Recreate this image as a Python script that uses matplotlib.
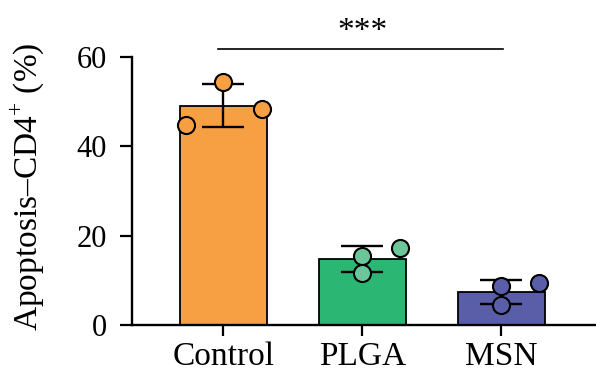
import matplotlib.pyplot as plt
import numpy as np

plt.rcParams['font.family'] = ['Liberation Serif', 'DejaVu Serif']
plt.rcParams['mathtext.fontset'] = 'custom'
plt.rcParams['mathtext.rm'] = 'Liberation Serif'

groups = ['Control', 'PLGA', 'MSN']
points = [
    [44.7, 54.3, 48.4],
    [15.5, 11.7, 17.3],
    [8.7, 4.4, 9.3],
]
jitter = [
    [-0.27, 0.0, 0.28],
    [0.0, 0.0, 0.27],
    [0.0, 0.0, 0.27],
]
bar_colors = ['#F7A043', '#2BB673', '#5A5EA9']
dot_colors = ['#F7A043', '#6CC69A', '#5A5EA9']
sig_text = '***'
sig_y = 61.7

means = [np.mean(p) for p in points]
sds = [np.std(p, ddof=1) for p in points]
x = np.arange(len(groups))

fig = plt.figure(figsize=(5.96, 3.82), dpi=100)
ax = fig.add_axes([0.2215, 0.1492, 0.7785, 0.7016])

ax.bar(x, means, width=0.625, color=bar_colors, edgecolor='black', linewidth=1.3, zorder=2)
ax.errorbar(x, means, yerr=sds, fmt='none', ecolor='black', elinewidth=1.7,
            capsize=15, capthick=1.7, zorder=3)
for i, p in enumerate(points):
    ax.plot(x[i] + np.array(jitter[i]), p, 'o', ms=12.3, mfc=dot_colors[i],
            mec='black', mew=1.5, zorder=4, clip_on=False)

# significance bar
ax.plot([-0.04, 2.01], [sig_y, sig_y], color='black', lw=1.2, clip_on=False)
ax.text(1, sig_y + 0.6, sig_text, ha='center', va='bottom', fontsize=24)

ax.set_xlim(-0.655, 2.68)
ax.set_ylim(0, 60)
ax.set_yticks([0, 20, 40, 60])
ax.set_xticks(x)
ax.set_xticklabels(groups)
ax.tick_params(axis='both', width=1.6, length=9, color='black')
ax.tick_params(axis='y', labelsize=22, pad=9)
ax.tick_params(axis='x', labelsize=24, pad=4, length=8)
for s in ['top', 'right']:
    ax.spines[s].set_visible(False)
for s in ['left', 'bottom']:
    ax.spines[s].set_linewidth(1.7)

ax.set_ylabel('Apoptosis–CD4$^{+}$ (%)', fontsize=24)
ax.yaxis.set_label_coords(-0.185, 0.515)

fig.savefig('out.png', dpi=100)
